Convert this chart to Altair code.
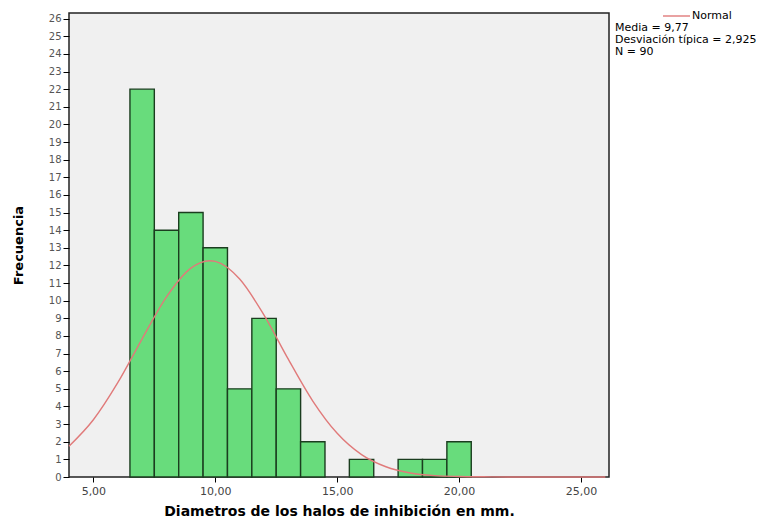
import altair as alt
import pandas as pd

# ---- data ----
bin_start = [6.5, 7.5, 8.5, 9.5, 10.5, 11.5, 12.5, 13.5, 14.5, 15.5, 16.5, 17.5, 18.5, 19.5]
counts = [22, 14, 15, 13, 5, 9, 5, 2, 0, 1, 0, 1, 1, 2]

curve_x = [4, 5, 6, 7, 8, 9, 9.77, 10, 11, 12, 13, 14, 15, 16, 17, 18, 19, 20, 21, 22, 23, 24, 25, 26]
curve_y = [1.75, 3.25, 5.35, 7.84, 10.22, 11.85, 12.27, 12.23, 11.23, 9.18, 6.67, 4.31, 2.48, 1.27,
           0.58, 0.23, 0.08, 0.03, 0.01, 0.0, 0.0, 0.0, 0.0, 0.0]

x_ticks = [5, 10, 15, 20, 25]
y_ticks = list(range(27))

legend_name = "Normal"
legend_stats = ["Media = 9,77", "Desviación típica = 2,925", "N = 90"]
x_title = "Diametros de los halos de inhibición en mm."
y_title = "Frecuencia"

FONT = "DejaVu Sans"
W, H = 540, 464

bars_df = pd.DataFrame({"start": bin_start, "count": counts})
bars_df = bars_df[bars_df["count"] > 0]
curve_df = pd.DataFrame({"x": curve_x, "y": curve_y})
legend_df = pd.DataFrame({"name": [legend_name], "stats": ["\n".join(legend_stats)]})

x_scale = alt.Scale(domain=[4, 26.15], nice=False, zero=False)
y_scale = alt.Scale(domain=[0, 26.32], nice=False)

x_axis = alt.Axis(
    values=x_ticks, title=x_title, grid=False, domain=False,
    labelExpr="replace(format(datum.value, '.2f'), '.', ',')",
    tickColor="black", tickSize=5, labelColor="#444444", labelFontSize=11,
    labelFont=FONT, titleFont=FONT, titleFontSize=14, titleFontWeight="bold",
    titleColor="black", titlePadding=8, labelPadding=3, labelOverlap=False,
)
y_axis = alt.Axis(
    values=y_ticks, tickCount=27, title=y_title, grid=False, domain=False,
    tickColor="black", tickSize=6, labelColor="#555555", labelFontSize=10,
    labelFont=FONT, titleFont=FONT, titleFontSize=13, titleFontWeight="bold",
    titleColor="black", titleX=-44, labelPadding=2, labelOverlap=False,
    labelFlush=False,
)

bars = alt.Chart(bars_df).mark_rect(
    color="#68dc7c", stroke="#1b3d1f", strokeWidth=1.4
).transform_calculate(
    end="datum.start + 1"
).encode(
    x=alt.X("start:Q", scale=x_scale, axis=x_axis),
    x2="end:Q",
    y=alt.Y("count:Q", scale=y_scale, axis=y_axis),
    y2=alt.datum(0),
)

curve = alt.Chart(curve_df).mark_line(
    color="#e07a7a", strokeWidth=1.4, interpolate="monotone"
).encode(
    x=alt.X("x:Q", scale=x_scale, axis=x_axis),
    y=alt.Y("y:Q", scale=y_scale, axis=y_axis),
)

leg_line = alt.Chart(legend_df).mark_rule(color="#e07a7a", strokeWidth=1.4).encode(
    x=alt.value(594), x2=alt.value(621), y=alt.value(3)
)
leg_name = alt.Chart(legend_df).mark_text(
    align="left", baseline="middle", font=FONT, fontSize=11, color="black"
).encode(x=alt.value(623), y=alt.value(3), text="name:N")
leg_stats = alt.Chart(legend_df).mark_text(
    align="left", baseline="middle", font=FONT, fontSize=11, color="black",
    lineBreak="\n", lineHeight=12,
).encode(x=alt.value(546), y=alt.value(15), text="stats:N")

chart = alt.layer(bars, curve, leg_line, leg_name, leg_stats).properties(
    width=W, height=H,
    autosize=alt.AutoSizeParams(type="none"),
    padding={"left": 61, "top": 5, "right": 159, "bottom": 40},
    background="white",
).configure_view(
    fill="#f0f0f0", stroke="#222222", strokeWidth=1.5
)

chart.save("out.html", embed_options={"renderer": "svg", "actions": False})
